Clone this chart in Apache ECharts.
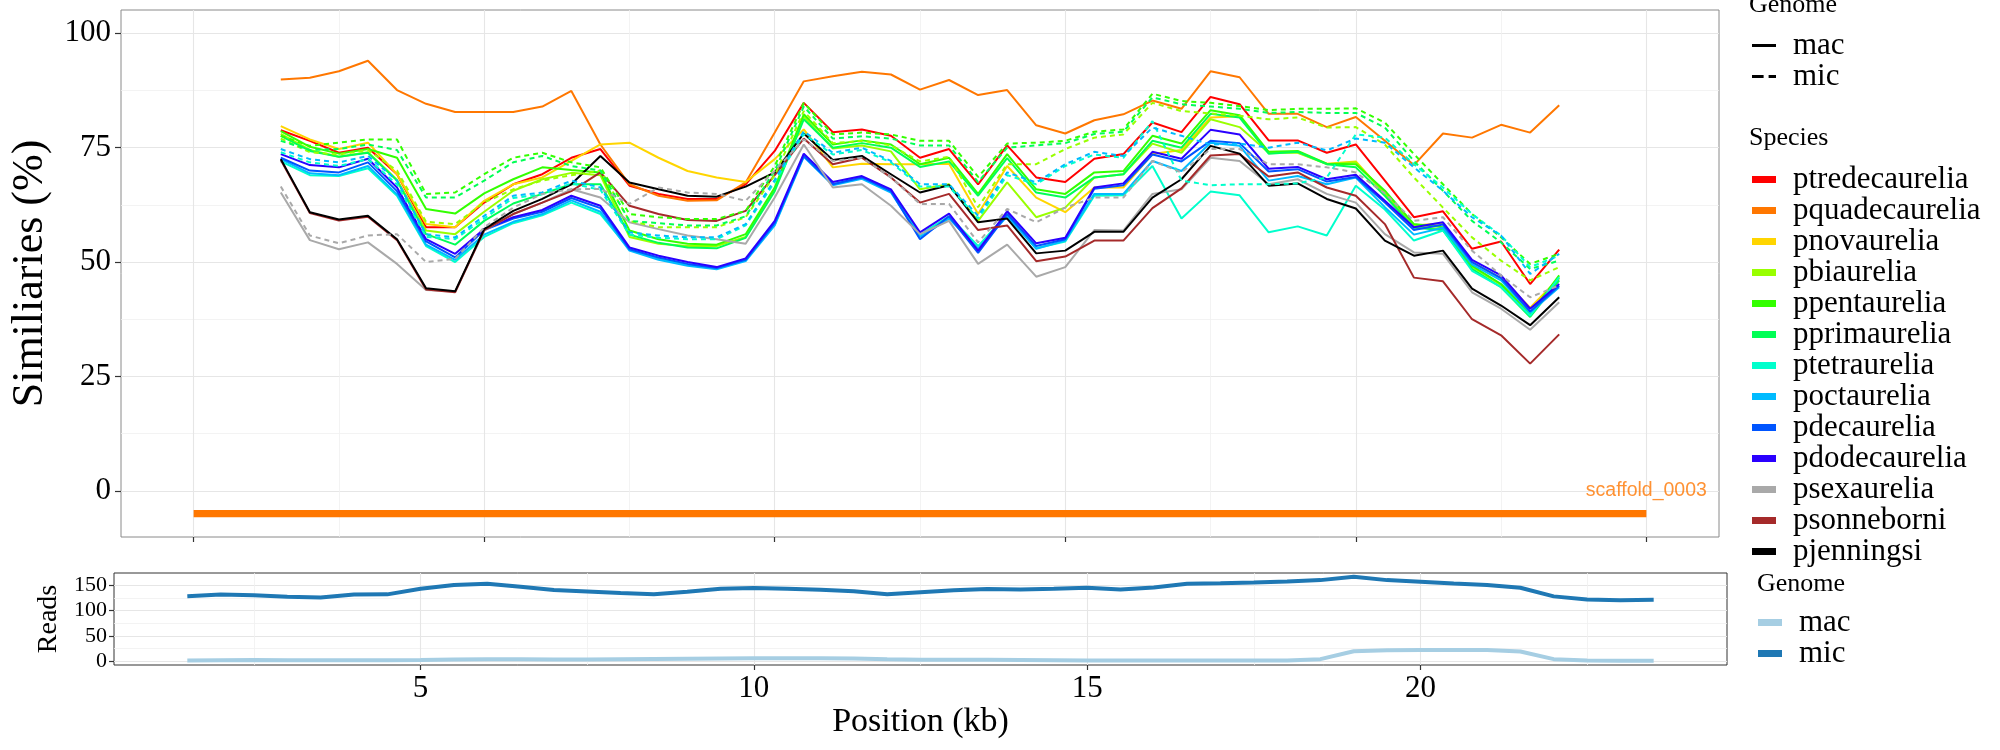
<!DOCTYPE html>
<html><head><meta charset="utf-8">
<script src="https://cdn.jsdelivr.net/npm/echarts@6/dist/echarts.min.js"></script>
<style>html,body{margin:0;padding:0;background:#fff}#c{width:2000px;height:750px}</style>
</head><body><div id="c"></div>
<script>
// ---- data ----
const positions = [1.5,2,2.5,3,3.5,4,4.5,5,5.5,6,6.5,7,7.5,8,8.5,9,9.5,10,10.5,11,11.5,12,12.5,13,13.5,14,14.5,15,15.5,16,16.5,17,17.5,18,18.5,19,19.5,20,20.5,21,21.5,22,22.5,23,23.5];

const species = ['ptredecaurelia','pquadecaurelia','pnovaurelia','pbiaurelia','ppentaurelia','pprimaurelia','ptetraurelia','poctaurelia','pdecaurelia','pdodecaurelia','psexaurelia','psonneborni','pjenningsi'];
const speciesColors = ['#FF0000','#FF7700','#FFD500','#99FF00','#33FF00','#00FF55','#00FFCC','#00BBFF','#0055FF','#2A00FF','#A9A9A9','#A52A2A','#000000'];

const ptredecaureliaMac = [78.8,76.5,73.9,75.0,69.2,57.6,57.6,63.0,67.0,69.2,72.8,74.7, 66.7,64.9,63.8,63.8,67.0,74.3,84.8,78.4,79.0,77.6,72.8,74.7,67.0, 75.5,68.5,67.5,72.6,73.6,80.5,78.4,86.1,84.5,76.6,76.6,73.9,75.7, 67.8,59.8,61.1,52.9,54.5,45.2,52.7];
const pquadecaureliaMac = [89.9,90.3,91.7,94.0,87.6,84.6,82.8,82.8,82.8,84.0,87.4,75.7, 67.0,64.5,63.4,63.5,67.4,78.3,89.5,90.6,91.6,91.0,87.7,89.8,86.5, 87.6,79.9,78.1,81.0,82.3,85.3,83.5,91.7,90.4,82.4,82.4,79.5,81.7, 76.5,71.2,78.1,77.2,80.0,78.3,84.3];
const pnovaureliaMac = [79.7,76.8,74.7,76.1,69.2,58.3,57.6,63.4,67.0,68.5,72.1,75.7, 76.1,72.8,69.9,68.5,67.5,72.5,79.0,70.7,71.5,71.4,71.4,71.5,60.5, 71.0,64.1,60.9,66.3,66.3,73.6,74.5,81.6,81.9,74.0,74.0,71.5,72.0, 65.0,58.0,58.5,50.0,46.5,40.0,46.5];
const pbiaureliaMac = [78.0,74.5,73.0,74.0,68.0,56.9,56.1,61.0,65.6,68.1,69.5,69.0, 55.5,54.0,53.5,53.5,55.5,66.0,81.8,74.8,75.5,74.2,65.9,67.0,59.0, 67.4,59.8,61.9,68.5,69.2,75.9,73.9,81.2,79.5,73.9,73.9,71.4,71.8, 65.0,58.0,57.0,49.0,45.0,38.5,46.5];
const ppentaureliaMac = [78.6,75.2,73.7,74.7,72.8,61.6,60.6,65.0,68.1,70.7,70.1,69.6, 56.9,55.0,54.0,53.8,56.1,66.3,82.3,75.7,76.6,75.7,71.4,72.8,64.9, 73.6,65.9,64.9,69.6,69.9,77.6,75.9,83.2,82.1,74.1,74.3,71.5,71.4, 65.6,58.3,57.6,49.2,45.2,38.7,47.1];
const pprimaureliaMac = [77.6,74.3,73.0,73.9,67.8,56.1,53.8,59.0,62.8,64.9,67.0,67.0, 56.0,54.2,53.2,53.0,55.3,65.5,81.2,75.0,76.0,75.0,70.8,72.0,64.5, 72.7,65.2,64.1,68.5,69.2,76.5,75.0,82.4,81.6,73.7,74.1,71.4,70.7, 64.5,57.5,57.0,48.5,44.5,38.0,46.0];
const ptetraureliaMac = [72.0,69.0,68.8,70.5,64.5,53.5,50.0,55.5,58.5,60.2,63.0,60.5, 52.8,50.8,49.5,48.6,50.4,58.2,73.5,67.0,68.5,65.5,56.0,60.0,53.5, 60.5,53.0,54.5,64.5,64.6,71.0,59.5,65.4,64.6,56.5,57.8,55.8,66.7, 61.5,54.7,56.9,48.1,44.5,38.3,46.7];
const poctaureliaMac = [72.5,69.4,69.0,71.0,64.8,53.8,50.5,56.0,58.8,60.5,63.5,61.0, 52.5,50.5,49.2,48.4,50.2,58.0,73.0,66.8,68.2,65.2,55.5,59.5,53.0, 60.0,52.9,54.7,64.9,64.9,72.1,69.9,76.1,75.4,67.8,68.8,67.0,68.5, 62.0,56.0,57.5,49.5,46.0,39.0,44.5];
const pdecaureliaMac = [72.8,70.0,69.6,71.8,65.5,54.5,51.0,57.0,59.5,61.0,64.0,61.8, 52.8,51.0,49.6,48.7,50.5,58.5,73.2,67.0,68.5,65.5,55.0,60.0,52.0, 60.5,53.5,55.0,66.0,66.8,73.5,72.0,76.5,76.0,69.8,70.3,67.6,68.6, 63.0,57.0,58.2,50.0,46.5,39.2,44.8];
const pdodecaureliaMac = [73.6,71.2,70.7,72.6,66.3,55.0,51.8,57.2,59.8,61.4,64.5,62.3, 53.2,51.4,50.0,48.9,50.8,59.0,73.7,67.5,68.8,65.9,56.5,60.6,52.5, 61.1,54.1,55.3,66.3,67.2,74.1,72.6,78.9,77.9,70.4,70.8,68.1,69.1, 63.4,57.6,58.7,50.5,47.1,39.8,45.2];
const psexaureliaMac = [65.2,54.8,52.8,54.3,49.6,43.9,43.6,56.9,60.5,63.0,65.9,64.1, 58.7,57.2,55.8,55.0,54.0,64.1,75.7,66.3,67.0,62.3,56.1,59.0,49.6, 53.8,46.8,48.9,57.0,56.9,64.9,65.9,72.8,72.1,67.0,68.1,64.9,63.0, 56.1,52.1,51.8,43.4,39.8,35.2,41.2];
const psonneborniMac = [72.3,60.7,59.1,59.9,54.8,44.0,43.4,57.0,60.5,63.0,65.5,69.6, 62.3,60.5,59.2,59.0,61.2,69.0,77.0,71.4,72.8,68.5,63.0,64.9,57.0, 58.0,50.2,51.2,54.7,54.7,61.8,66.1,73.3,73.6,68.7,69.6,66.3,64.5, 58.3,46.6,45.8,37.5,34.0,27.8,34.2];
const pjenningsiMac = [72.5,60.9,59.3,60.1,55.0,44.3,43.6,57.2,61.2,63.8,67.0,73.2, 67.4,65.9,64.5,64.3,66.5,69.6,78.1,72.3,73.2,69.2,65.2,66.8,58.7, 59.5,51.9,52.5,56.6,56.6,64.1,68.1,75.4,73.7,66.7,67.2,63.8,61.7, 54.7,51.4,52.5,44.2,40.5,36.2,42.3];

const pbiaureliaMic = [77.0,74.0,73.5,74.5,70.0,58.8,58.3,63.0,65.9,67.8,69.0,70.0, 59.0,57.6,57.6,57.6,59.8,69.0,83.0,76.0,76.5,75.5,72.0,73.0,62.0, 71.4,71.4,74.7,77.2,77.9,84.8,83.0,82.5,82.0,81.2,81.6,79.4,79.5, 75.7,68.5,61.9,55.4,50.3,46.0,48.9];
const ppentaureliaMic = [77.6,75.4,76.1,76.8,76.8,64.9,65.2,69.2,72.8,73.9,71.8,70.7, 60.5,59.8,59.4,59.4,61.2,71.0,84.8,77.9,78.3,77.9,76.5,76.5,68.6, 75.9,76.1,76.5,78.5,79.0,86.8,85.2,84.8,84.1,83.2,83.5,83.5,83.6, 80.5,73.6,67.0,60.5,55.4,49.6,51.8];
const pprimaureliaMic = [76.5,74.5,74.7,75.7,74.5,64.1,64.1,67.8,71.8,73.2,71.0,70.0, 59.0,58.5,58.0,58.0,60.0,70.0,84.0,77.0,77.5,77.0,75.5,75.5,67.5, 75.0,75.5,76.0,78.0,78.5,86.0,84.5,84.0,83.5,82.6,82.8,82.6,82.6, 79.4,72.1,65.6,59.0,54.3,48.5,50.3];
const ptetraureliaMic = [74.0,71.8,71.0,72.5,67.0,55.5,55.0,59.5,64.0,64.8,67.2,65.8, 56.0,55.3,55.0,55.0,58.0,67.5,78.0,73.5,74.5,71.8,66.5,66.5,59.5, 69.0,67.0,71.0,73.5,72.8,80.8,67.8,66.8,67.0,67.0,67.2,68.5,77.9, 77.2,71.4,66.3,60.5,55.8,48.9,51.4];
const poctaureliaMic = [74.7,72.5,71.8,73.2,67.8,56.1,55.4,60.1,64.5,65.2,67.8,66.3, 56.5,55.8,55.4,55.4,58.3,68.0,78.6,73.9,75.0,72.1,67.0,67.0,60.1, 69.6,67.4,71.4,74.1,73.2,79.4,77.6,75.7,75.9,75.0,76.1,74.4,77.0, 76.1,70.7,65.6,59.8,55.8,47.4,51.8];
const psexaureliaMic = [66.5,55.8,54.1,55.8,56.1,50.0,50.7,57.6,61.9,64.9,65.9,66.0, 62.7,66.3,65.2,64.9,63.4,70.0,76.8,72.1,72.8,68.5,62.7,62.7,54.3, 61.6,58.7,61.9,64.1,64.1,72.1,69.6,74.7,74.7,71.4,71.4,70.7,69.6, 65.0,59.0,59.8,52.5,47.1,42.3,44.9];

const readsMac = [2,2.5,3,2.5,2.5,2.5,2.5,3,4,4.5,4.5,4,4,4.5,5,5.5,6,6.5,6.5,6.5,6,4.5,3.5,3.5,3.5,3,2.5,2,2,2,2,2,2,2,4.5,20,22,22.5,22.5,22.5,19.5,4.5,2,1.5,1.5];
const readsMic = [128.4,131.5,130,127.5,126,131.5,132,143,150.5,153,147,140.5,137.5,134.5,132,137,143,144.5,143,141,138,132,136,140,142.5,141.5,143,145,141.5,145.5,153,154,155.5,157.5,160,166.5,160,157,153.5,150.5,145,128,122,120.5,121.5];

const scaffoldName = 'scaffold_0003';
const scaffoldStart = 0, scaffoldEnd = 25, scaffoldY = -5;

const simTicks = [0,25,50,75,100];
const simMinor = [12.5,37.5,62.5,87.5];
const topXTicks = [0,5,10,15,20,25];
const topXMinor = [2.5,7.5,12.5,17.5,22.5];
const posTicks = [5,10,15,20];
const posMinor = [2.5,7.5,12.5,17.5,22.5];
const readsTicks = [0,50,100,150];
const readsMinor = [25,75,125];

// ---- chart ----
const SERIF = 'Liberation Serif';
const macSets = [ptredecaureliaMac,pquadecaureliaMac,pnovaureliaMac,pbiaureliaMac,ppentaureliaMac,pprimaureliaMac,ptetraureliaMac,poctaureliaMac,pdecaureliaMac,pdodecaureliaMac,psexaureliaMac,psonneborniMac,pjenningsiMac];
const micSets = [['pbiaurelia',pbiaureliaMic],['ppentaurelia',ppentaureliaMic],['pprimaurelia',pprimaureliaMic],['ptetraurelia',ptetraureliaMic],['poctaurelia',poctaureliaMic],['psexaurelia',psexaureliaMic]];
const pts = v => positions.map((x,i)=>[x, v[i]]);
const MAJ = {show:true, lineStyle:{color:'#E6E6E6', width:1.1}};
const MIN = {show:true, lineStyle:{color:'#F0F0F0', width:0.8}};
const NOLINE = {show:false, onZero:false};

const series = [];
species.forEach((s,i)=>{
  series.push({name:s, type:'line', xAxisIndex:0, yAxisIndex:0, data:pts(macSets[i]), symbol:'none', silent:true,
    itemStyle:{color:speciesColors[i]}, lineStyle:{color:speciesColors[i], width:2}});
});
micSets.forEach(([s,v])=>{
  const c = speciesColors[species.indexOf(s)];
  series.push({name:s, type:'line', xAxisIndex:0, yAxisIndex:0, data:pts(v), symbol:'none', silent:true,
    itemStyle:{color:c}, lineStyle:{color:c, width:2, type:[5,4]}});
});
series.push({name:'scaffold', type:'line', xAxisIndex:0, yAxisIndex:0, data:[[scaffoldStart,scaffoldY],[scaffoldEnd,scaffoldY]], symbol:'none', silent:true,
  lineStyle:{color:'#FF7700', width:7.3, cap:'butt'}});
series.push({name:'scaffoldLabel', type:'scatter', xAxisIndex:0, yAxisIndex:0, data:[[scaffoldEnd,0]], symbolSize:0.1, silent:true,
  itemStyle:{color:'transparent'}, label:{show:true, position:'inside', formatter:scaffoldName, color:'#FF7700', fontFamily:'Liberation Sans', fontSize:19.5}});
series.push({name:'gMac', type:'line', xAxisIndex:0, yAxisIndex:0, data:[], symbol:'none', itemStyle:{color:'#000'}, lineStyle:{color:'#000', width:3}});
series.push({name:'gMic', type:'line', xAxisIndex:0, yAxisIndex:0, data:[], symbol:'none', itemStyle:{color:'#000'}, lineStyle:{color:'#000', width:3, type:[10,6]}});
series.push({name:'rMac', type:'line', xAxisIndex:2, yAxisIndex:2, data:pts(readsMac), symbol:'none', silent:true, itemStyle:{color:'#A6CEE3'}, lineStyle:{color:'#A6CEE3', width:4}});
series.push({name:'rMic', type:'line', xAxisIndex:2, yAxisIndex:2, data:pts(readsMic), symbol:'none', silent:true, itemStyle:{color:'#1F78B4'}, lineStyle:{color:'#1F78B4', width:4}});

const legText = {fontFamily:SERIF, fontSize:31, color:'#000', lineHeight:30, padding:[0,0,0,12]};
const titleStyle = {fontFamily:SERIF, fontSize:26, fontWeight:'normal', color:'#000', lineHeight:26};

const option = {
  animation:false,
  backgroundColor:'#fff',
  title:[
    {text:'Genome', left:1749, top:-8, padding:0, textStyle:titleStyle},
    {text:'Species', left:1749, top:125, padding:0, textStyle:titleStyle},
    {text:'Genome', left:1757, top:571, padding:0, textStyle:titleStyle}
  ],
  legend:[
    {orient:'vertical', left:1752, top:30, padding:0, itemGap:0, itemWidth:24, itemHeight:3, selectedMode:false,
      data:[
        {name:'gMac', icon:'path://M0,0L24,0L24,3L0,3Z', itemStyle:{color:'#000', borderWidth:0}},
        {name:'gMic', icon:'path://M0,0L11.6,0L11.6,3L0,3Z M16.6,0L24,0L24,3L16.6,3Z', itemStyle:{color:'#000', borderWidth:0}}
      ], formatter:n=>n==='gMac'?'mac':'mic', textStyle:legText},
    {orient:'vertical', left:1752, top:164, padding:0, itemGap:0, itemWidth:24, itemHeight:7, selectedMode:false,
      data:species.map((n,i)=>({name:n, icon:'rect', itemStyle:{color:speciesColors[i], borderWidth:0}})), textStyle:Object.assign({}, legText, {lineHeight:29.8})},
    {orient:'vertical', left:1758, top:607, padding:0, itemGap:0, itemWidth:24, itemHeight:7, selectedMode:false,
      data:[{name:'rMac', icon:'rect', itemStyle:{color:'#A6CEE3', borderWidth:0}},{name:'rMic', icon:'rect', itemStyle:{color:'#1F78B4', borderWidth:0}}],
      formatter:n=>n==='rMac'?'mac':'mic', textStyle:legText}
  ],
  grid:[
    {left:113, top:10, width:1606, height:527, show:true, borderColor:'#8a8a8a', borderWidth:1, backgroundColor:'transparent'},
    {left:114, top:573, width:1613, height:92, show:true, borderColor:'#333', borderWidth:1, backgroundColor:'transparent'}
  ],
  xAxis:[
    {gridIndex:0, type:'value', position:'bottom', min:-1.25, max:26.25, axisLine:NOLINE,
      axisTick:{show:true, length:5, lineStyle:{color:'#333', width:1.2}, customValues:topXTicks},
      axisLabel:{show:false}, splitLine:MAJ},
    {gridIndex:0, type:'value', position:'bottom', min:-1.25, max:26.25, axisLine:NOLINE,
      axisTick:{show:false, customValues:topXMinor}, axisLabel:{show:false}, splitLine:MIN},
    {gridIndex:1, type:'value', position:'bottom', min:0.4, max:24.6, axisLine:NOLINE,
      axisTick:{show:true, length:5, lineStyle:{color:'#333', width:1.2}, customValues:posTicks},
      axisLabel:{customValues:posTicks, fontFamily:SERIF, fontSize:31, color:'#000', margin:8},
      splitLine:MAJ, name:'Position (kb)', nameLocation:'middle', nameGap:36,
      nameTextStyle:{fontFamily:SERIF, fontSize:34, color:'#000'}},
    {gridIndex:1, type:'value', position:'bottom', min:0.4, max:24.6, axisLine:NOLINE,
      axisTick:{show:false, customValues:posMinor}, axisLabel:{show:false}, splitLine:MIN}
  ],
  yAxis:[
    {gridIndex:0, type:'value', position:'left', min:-10.1, max:105.1, axisLine:NOLINE,
      axisTick:{show:true, length:6, lineStyle:{color:'#333', width:1.2}, customValues:simTicks},
      axisLabel:{customValues:simTicks, fontFamily:SERIF, fontSize:31, color:'#000', margin:10},
      splitLine:MAJ, name:'Similiaries (%)', nameLocation:'middle', nameRotate:90, nameGap:69,
      nameTextStyle:{fontFamily:SERIF, fontSize:44, color:'#000'}},
    {gridIndex:0, type:'value', position:'left', min:-10.1, max:105.1, axisLine:NOLINE,
      axisTick:{show:false, customValues:simMinor}, axisLabel:{show:false}, splitLine:MIN},
    {gridIndex:1, type:'value', position:'left', min:-7, max:174, axisLine:NOLINE,
      axisTick:{show:true, length:5, lineStyle:{color:'#333', width:1.2}, customValues:readsTicks},
      axisLabel:{customValues:readsTicks, fontFamily:SERIF, fontSize:22, color:'#000', margin:7},
      splitLine:MAJ, name:'Reads', nameLocation:'middle', nameRotate:90, nameGap:46,
      nameTextStyle:{fontFamily:SERIF, fontSize:28, color:'#000'}},
    {gridIndex:1, type:'value', position:'left', min:-7, max:174, axisLine:NOLINE,
      axisTick:{show:false, customValues:readsMinor}, axisLabel:{show:false}, splitLine:MIN}
  ],
  series:series
};
const chart = echarts.init(document.getElementById('c'), null, {renderer:'canvas'});
chart.setOption(option);
</script></body></html>
